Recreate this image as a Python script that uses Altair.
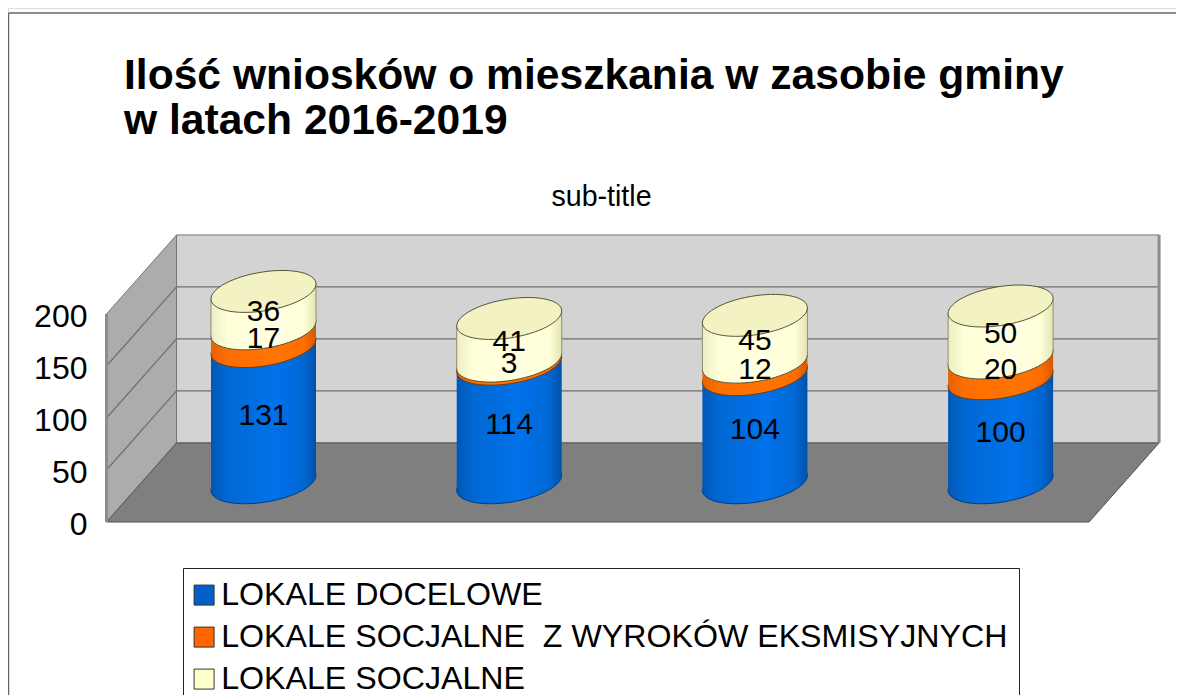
import altair as alt
import pandas as pd

# ---------- data ----------
years = [2016, 2017, 2018, 2019]
series_names = ["LOKALE DOCELOWE", "LOKALE SOCJALNE\u00a0 Z WYROKÓW EKSMISYJNYCH", "LOKALE SOCJALNE"]
docelowe = [131, 114, 104, 100]
eksmisyjne = [17, 3, 12, 20]
socjalne = [36, 41, 45, 50]
y_ticks = [0, 50, 100, 150, 200]

# ---------- style ----------
FONT = "Liberation Sans"
W, H = 1168, 687
PX_PER_UNIT = 1.04
PX_PER_CAT = 245.7
CAT0_PX = 255.5
ZERO_PX = 514.0
x_scale = alt.Scale(domain=[-CAT0_PX / PX_PER_CAT, (W - CAT0_PX) / PX_PER_CAT], nice=False, zero=False)
y_scale = alt.Scale(domain=[(ZERO_PX - H) / PX_PER_UNIT, ZERO_PX / PX_PER_UNIT], nice=False, zero=False)

DEPTH_X = 0.285       # 3-D wall depth, category units
DEPTH_Y = 76          # 3-D wall depth, value units
LEFT, RIGHT = -0.639, 3.36
TOP = 200
BASE = 37.7           # cylinder base sits this far into the floor
TEXT_BASE = 36
HALF = 0.2137         # cylinder half-width, category units
TILT = 7.2            # ellipse tilt, value units


def grad(edge_l, mid, light, edge_r):
    return alt.LinearGradient(
        gradient="linear", x1=0, x2=1, y1=0, y2=0,
        stops=[
            alt.GradientStop(offset=0, color=edge_l),
            alt.GradientStop(offset=0.16, color=mid),
            alt.GradientStop(offset=0.6, color=light),
            alt.GradientStop(offset=0.88, color=mid),
            alt.GradientStop(offset=1, color=edge_r),
        ],
    )


side_fills = [
    grad("#0058b4", "#0068d4", "#0072ea", "#0052a8"),
    grad("#e86200", "#ff6e00", "#ff7400", "#d45a00"),
    grad("#eeeec4", "#ffffd8", "#ffffe2", "#e4e4b4"),
]
legend_colors = ["#0060c8", "#ff6600", "#ffffcc"]
outline = ["#003c80", "#7a3a00", "#55553a"]

# ---------- shape of a tilted ellipse in unit coordinates ----------
SC, BC = 0.143, 0.373
K = 0.5523


def pt(c, s):
    return f"{c:.4f},{-SC * c + BC * s:.4f}"


ELLIPSE = (
    f"M{pt(1, 0)}"
    f"C{pt(1, K)} {pt(K, 1)} {pt(0, 1)}"
    f"C{pt(-K, 1)} {pt(-1, K)} {pt(-1, 0)}"
    f"C{pt(-1, -K)} {pt(-K, -1)} {pt(0, -1)}"
    f"C{pt(K, -1)} {pt(1, -K)} {pt(1, 0)}Z"
)
ELLIPSE_SIZE = 105 ** 2

X = alt.X("x:Q", scale=x_scale, axis=None)
Y = alt.Y("y:Q", scale=y_scale, axis=None)
X2 = alt.X2("x2:Q")
Y2 = alt.Y2("y2:Q")

layers = []

# frame of the slide (runs past the right and bottom of the photo)
layers.append(alt.Chart(pd.DataFrame({"a": [0]})).mark_rule(color="#666666", strokeWidth=1.5).encode(
    x=alt.value(0.5), x2=alt.value(W), y=alt.value(5), y2=alt.value(5)))
layers.append(alt.Chart(pd.DataFrame({"a": [0]})).mark_rule(color="#666666", strokeWidth=1.5).encode(
    x=alt.value(0.5), x2=alt.value(0.5), y=alt.value(5), y2=alt.value(H)))

# back wall
layers.append(alt.Chart(pd.DataFrame({
    "x": [LEFT + DEPTH_X], "x2": [RIGHT + DEPTH_X], "y": [DEPTH_Y], "y2": [TOP + DEPTH_Y]
})).mark_rect(color="#d3d3d3", stroke="#777777", strokeWidth=1).encode(x=X, x2=X2, y=Y, y2=Y2))

# left wall, carries the value axis
layers.append(alt.Chart(pd.DataFrame({
    "x": [LEFT, LEFT + DEPTH_X], "y": [0, DEPTH_Y], "y2": [TOP, TOP + DEPTH_Y]
})).mark_area(color="#acacac", stroke="#777777", strokeWidth=1).encode(
    x=X,
    y=alt.Y("y:Q", scale=y_scale, title=None, axis=alt.Axis(
        values=y_ticks, domain=False, ticks=False, grid=False, offset=-81, labelPadding=2, labelOffset=2,
        labelFontSize=32, labelFont=FONT, labelColor="#000000", format="d", labelOverlap=False)),
    y2=Y2,
))

# floor
layers.append(alt.Chart(pd.DataFrame({
    "x": [LEFT, LEFT + DEPTH_X, RIGHT, RIGHT + DEPTH_X],
    "y": [0, 0, 0, DEPTH_Y],
    "y2": [0, DEPTH_Y, DEPTH_Y, DEPTH_Y],
})).mark_area(color="#7f7f7f", stroke="#555555", strokeWidth=1).encode(x=X, y=Y, y2=Y2))

# grid lines on both walls
grid_vals = [v for v in y_ticks if 0 < v < TOP]
grid_df = pd.DataFrame(
    [{"x": LEFT + DEPTH_X, "x2": RIGHT + DEPTH_X, "y": v + DEPTH_Y, "y2": v + DEPTH_Y} for v in grid_vals]
    + [{"x": LEFT, "x2": LEFT + DEPTH_X, "y": v, "y2": v + DEPTH_Y} for v in grid_vals]
)
layers.append(alt.Chart(grid_df).mark_rule(color="#6e6e6e", strokeWidth=1.2).encode(x=X, x2=X2, y=Y, y2=Y2))

# thick wall edges
edge_df = pd.DataFrame([
    {"x": LEFT, "x2": LEFT, "y": 0, "y2": TOP},
    {"x": RIGHT + DEPTH_X, "x2": RIGHT + DEPTH_X, "y": DEPTH_Y, "y2": TOP + DEPTH_Y},
])
layers.append(alt.Chart(edge_df).mark_rule(color="#8c8c8c", strokeWidth=3).encode(x=X, x2=X2, y=Y, y2=Y2))

# cylinders, painted from the bottom up
values = [docelowe, eksmisyjne, socjalne]
bottom = [0] * len(years)
text_rows = []
for s, vals in enumerate(values):
    top = [b + v for b, v in zip(bottom, vals)]
    ell = pd.DataFrame({"x": list(range(len(years))), "y": [b + BASE for b in bottom]})
    layers.append(alt.Chart(ell).mark_point(
        shape=ELLIPSE, size=ELLIPSE_SIZE, filled=True, opacity=1, fill=side_fills[s],
        stroke=outline[s], strokeWidth=1,
    ).encode(x=X, y=Y))
    side_rows = []
    edge_rows = []
    for i, (b, t) in enumerate(zip(bottom, top)):
        side_rows.append({"bar": i, "x": i - HALF, "y": b + BASE - TILT, "y2": t + BASE - TILT})
        side_rows.append({"bar": i, "x": i + HALF, "y": b + BASE + TILT, "y2": t + BASE + TILT})
        edge_rows.append({"x": i - HALF, "x2": i - HALF, "y": b + BASE - TILT, "y2": t + BASE - TILT})
        edge_rows.append({"x": i + HALF, "x2": i + HALF, "y": b + BASE + TILT, "y2": t + BASE + TILT})
        text_rows.append({"x": i, "y": (b + t) / 2 + TEXT_BASE, "label": str(vals[i])})
    layers.append(alt.Chart(pd.DataFrame(side_rows)).mark_area(color=side_fills[s]).encode(
        x=X, y=Y, y2=Y2, detail="bar:N"))
    if s == 2:
        layers.append(alt.Chart(pd.DataFrame(edge_rows)).mark_rule(color="#8f8f70", strokeWidth=1).encode(
            x=X, x2=X2, y=Y, y2=Y2))
    bottom = top

# tops of the cylinders
layers.append(alt.Chart(pd.DataFrame({"x": list(range(len(years))), "y": [b + BASE for b in bottom]})).mark_point(
    shape=ELLIPSE, size=ELLIPSE_SIZE, filled=True, opacity=1, fill="#f2f2c2", stroke="#55553a", strokeWidth=1,
).encode(x=X, y=Y))

# value labels
layers.append(alt.Chart(pd.DataFrame(text_rows)).mark_text(
    font=FONT, fontSize=30, color="#000000", baseline="middle", align="center",
).encode(x=X, y=Y, text="label:N"))

# subtitle
layers.append(alt.Chart(pd.DataFrame({"t": ["sub-title"]})).mark_text(
    font=FONT, fontSize=28.6, color="#000000", baseline="middle", align="center",
).encode(x=alt.value(593.5), y=alt.value(189), text="t:N"))

# legend carrier: invisible points, real legend
legend_df = pd.DataFrame({"name": series_names, "x": [0, 0, 0], "y": [0, 0, 0]})
layers.append(alt.Chart(legend_df).mark_square(size=0, opacity=1, filled=True).encode(
    x=X, y=Y,
    color=alt.Color("name:N", scale=alt.Scale(domain=series_names, range=legend_colors), legend=alt.Legend(
        title=None, orient="none", legendX=175, legendY=560, strokeColor="#222222", fillColor="#ffffff",
        padding=11, symbolType="square", symbolSize=400, symbolStrokeColor="#333333", symbolStrokeWidth=1,
        symbolOpacity=1, symbolOffset=-6, labelFont=FONT, labelFontSize=32.16, labelColor="#000000", labelLimit=1000,
        labelOffset=1, rowPadding=9, columns=1, values=series_names, offset=0,
    )),
))

chart = alt.layer(*layers).resolve_axis(y="independent").properties(
    width=W, height=H, padding=0, autosize=alt.AutoSizeParams(type="none"),
    title=alt.TitleParams(
        text=["Ilość wniosków o mieszkania w zasobie gminy", "w latach 2016-2019"],
        font=FONT, fontSize=42.6, fontWeight="bold", color="#000000", anchor="start", frame="group",
        dx=116, dy=169, lineHeight=45, baseline="alphabetic", offset=0,
    ),
).configure_view(stroke=None).configure(background="#ffffff")

chart.save("out.html", embed_options={"renderer": "svg", "actions": False})
